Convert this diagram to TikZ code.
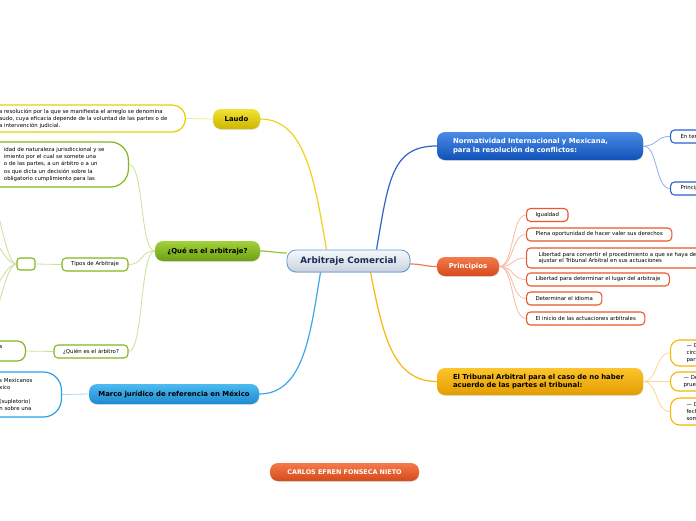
\documentclass[tikz,border=0pt]{standalone}
\usepackage{fontspec}
\setmainfont{DejaVu Sans}
\usetikzlibrary{shadows,backgrounds}
\definecolor{cenTop}{HTML}{F6F8FB}\definecolor{cenBot}{HTML}{C8D2DD}\definecolor{cenLine}{HTML}{5B9BD5}\definecolor{cenText}{HTML}{1B2A57}
\definecolor{yTop}{HTML}{F2E233}\definecolor{yBot}{HTML}{CDB700}\definecolor{yBord}{HTML}{E8CF00}\definecolor{yLine}{HTML}{EED21B}\definecolor{ySub}{HTML}{F3E88A}
\definecolor{gTop}{HTML}{A3D13B}\definecolor{gBot}{HTML}{6C9F12}\definecolor{gBord}{HTML}{84B71E}\definecolor{gLine}{HTML}{96C43C}\definecolor{gSub}{HTML}{C9E29A}
\definecolor{mTop}{HTML}{4DBAF0}\definecolor{mBot}{HTML}{1C8BD0}\definecolor{mBord}{HTML}{2AA2E6}\definecolor{mLine}{HTML}{3AA9E8}\definecolor{mSub}{HTML}{A8D8F5}
\definecolor{nTop}{HTML}{4A8BE6}\definecolor{nBot}{HTML}{1051B8}\definecolor{nBord}{HTML}{2463D1}\definecolor{nLine}{HTML}{2A66CC}\definecolor{nSub}{HTML}{8DB0EA}
\definecolor{oTop}{HTML}{F57A4A}\definecolor{oBot}{HTML}{D54A1B}\definecolor{oBord}{HTML}{E9572A}\definecolor{oLine}{HTML}{F07A58}\definecolor{oSub}{HTML}{F7BBA6}
\definecolor{tTop}{HTML}{FDC42C}\definecolor{tBot}{HTML}{E39D00}\definecolor{tBord}{HTML}{F7B500}\definecolor{tLine}{HTML}{F6B80E}\definecolor{tSub}{HTML}{FAD98A}
\begin{document}
\begin{tikzpicture}[x=1pt,y=-1pt,
  every node/.style={inner sep=0pt},
  title/.style={rounded corners=8pt, font=\fontsize{6.9}{8.6}\selectfont\bfseries, align=center,
    drop shadow={opacity=0.25, shadow xshift=0.4pt, shadow yshift=-0.8pt}},
  leaf/.style={draw, fill=white, line width=1.1pt, rounded corners=4pt, font=\fontsize{5.4}{6.9}\selectfont,
    inner xsep=9pt, inner ysep=0pt, minimum height=13pt, anchor=west, align=left},
  bigbox/.style={draw, fill=white, line width=1.2pt, rounded corners=14pt, font=\fontsize{5.4}{7.1}\selectfont,
    align=left, anchor=east},
  mainline/.style={line width=1.2pt},
  subline/.style={line width=0.8pt},
]
\useasboundingbox (0,0) rectangle (696,520);

% central
\node[title, top color=cenTop, bottom color=cenBot, draw=cenLine, line width=0.8pt, minimum width=123pt,
  minimum height=22pt, rounded corners=9pt, text=cenText, font=\fontsize{8.8}{10}\selectfont\bfseries]
  (central) at (348.5,261) {Arbitraje Comercial};

% Laudo
\node[title, top color=yTop, bottom color=yBot, minimum width=47pt, minimum height=20pt] (laudo) at (236.5,119) {Laudo};
\node[bigbox, draw=yBord, inner xsep=18pt, minimum height=27pt, rounded corners=13pt] (laudotxt) at (186,118.5)
  {a resolución por la que se manifiesta el arreglo se denomina\\audo, cuya eficacia depende de la voluntad de las partes o de\\a intervención judicial.};

% Que es el arbitraje
\node[title, top color=gTop, bottom color=gBot, minimum width=105pt, minimum height=20pt] (que) at (207.5,251) {¿Qué es el arbitraje?};
\node[bigbox, draw=gBord, inner xsep=24pt, minimum height=45pt, rounded corners=18pt] (grntxt) at (129,164.5)
  {idad de naturaleza jurisdiccional y se\\imiento por el cual se somete una\\o de las partes, a un árbitro o a un\\os que dicta un decisión sobre la\\obligatorio cumplimiento para las};
\node[leaf, draw=gBord, anchor=center, minimum width=66pt] (tipos) at (95,264.5) {Tipos de Arbitraje};
\node[leaf, draw=gBord, anchor=center, minimum width=18pt, minimum height=12pt, rounded corners=3pt] (empty) at (26,264) {};
\node[leaf, draw=gBord, anchor=center, minimum width=74pt] (quien) at (91,351.5) {¿Quién es el árbitro?};
\node[bigbox, draw=gBord, inner xsep=23pt, minimum height=20pt, rounded corners=8pt] (grns) at (26,351) {s\\\mbox{}};

% Marco
\node[title, top color=mTop, bottom color=mBot, minimum width=170pt, minimum height=20pt] (marco) at (174,394) {Marco jurídico de referencia en México};
\node[bigbox, draw=mBord, inner xsep=29pt, minimum height=45pt, rounded corners=18pt] (blutxt) at (62,394.5)
  {s Mexicanos\\xico\\\mbox{}\\(supletorio)\\n sobre una};

% Normatividad
\node[title, top color=nTop, bottom color=nBot, text=white, minimum width=206pt, minimum height=28pt,
  align=left, text width=174pt, inner xsep=16pt] (norm) at (540,146)
  {Normatividad Internacional y Mexicana,\\para la resolución de conflictos:};
\node[leaf, draw=nBord, text width=40pt, inner xsep=10pt] (enter) at (670,136.5) {En ter};
\node[leaf, draw=nBord, text width=40pt, inner xsep=10pt] (princip) at (670,188.5) {Princip};

% Principios
\node[title, top color=oTop, bottom color=oBot, text=white, minimum width=62pt, minimum height=19pt] (princ) at (468,266.5) {Principios};
\node[leaf, draw=oBord] (igual) at (526,215) {Igualdad};
\node[leaf, draw=oBord] (plena) at (526,234.5) {Plena oportunidad de hacer valer sus derechos};
\node[leaf, draw=oBord, minimum height=20pt, inner xsep=12pt] (libre) at (526,258)
  {Libertad para convertir el procedimiento a que se haya de\\ajustar el Tribunal Arbitral en sus actuaciones};
\node[leaf, draw=oBord] (lugar) at (526,279.5) {Libertad para determinar el lugar del arbitraje};
\node[leaf, draw=oBord] (idioma) at (526,298.5) {Determinar el idioma};
\node[leaf, draw=oBord] (inicio) at (526,318.5) {El inicio de las actuaciones arbitrales};

% Tribunal
\node[title, top color=tTop, bottom color=tBot, minimum width=206pt, minimum height=27pt,
  align=left, text width=174pt, inner xsep=16pt] (trib) at (540,381.5)
  {El Tribunal Arbitral para el caso de no haber\\acuerdo de las partes el tribunal:};
\node[leaf, draw=tBord, text width=40pt, inner xsep=16pt, minimum height=26pt, rounded corners=9pt] (t1) at (670,353) {— D\\circ\\part};
\node[leaf, draw=tBord, text width=40pt, inner xsep=13pt, minimum height=19pt, rounded corners=8pt] (t2) at (670,381.5) {— De\\prue};
\node[leaf, draw=tBord, text width=40pt, inner xsep=16pt, minimum height=27pt, rounded corners=9pt] (t3) at (670,411.5) {— D\\fech\\som};

% author
\node[title, top color=oTop, bottom color=oBot, text=white, minimum width=149pt, minimum height=18pt,
  font=\fontsize{6.4}{8}\selectfont\bfseries] (carlos) at (344.5,472) {CARLOS EFREN FONSECA NIETO};

\coordinate (e1) at (-15,185);
\coordinate (e2) at (-15,235);
\coordinate (e3) at (-15,295);
\coordinate (e4) at (-15,330);

\begin{scope}[on background layer]
\fill[white] (0,0) rectangle (696,520);
% main branches
\draw[mainline, draw=yLine] ([xshift=-22pt]central.north) .. controls +(-12,-70) and +(45,0) .. (laudo.east);
\draw[mainline, draw=gLine] ([yshift=8pt]central.west) .. controls +(-10,0) and +(10,0) .. (que.east);
\draw[mainline, draw=mLine] ([xshift=-28pt]central.south) .. controls +(-10,60) and +(45,0) .. (marco.east);
\draw[mainline, draw=nLine] ([xshift=28pt]central.north) .. controls +(12,-70) and +(-45,0) .. (norm.west);
\draw[mainline, draw=oLine] ([yshift=-3pt]central.east) .. controls +(12,0) and +(-12,0) .. (princ.west);
\draw[mainline, draw=tLine] ([xshift=22pt]central.south) .. controls +(12,60) and +(-45,0) .. (trib.west);
% sub branches
\draw[subline, draw=ySub] (laudo.west) -- (laudotxt.east);
\foreach \t in {grntxt,tipos,quien}
  \draw[subline, draw=gSub] (que.west) .. controls +(-15,0) and +(15,0) .. (\t.east);
\draw[subline, draw=gSub] (tipos.west) -- (empty.east);
\draw[subline, draw=gSub] (quien.west) -- (grns.east);
\foreach \t in {e1,e2,e3,e4}
  \draw[subline, draw=gSub] (empty.west) .. controls +(-12,0) and +(12,0) .. (\t);
\draw[subline, draw=mSub] (marco.west) -- (blutxt.east);
\foreach \t in {enter,princip}
  \draw[subline, draw=nSub] (norm.east) .. controls +(15,0) and +(-15,0) .. (\t.west);
\foreach \t in {igual,plena,libre,lugar,idioma,inicio}
  \draw[subline, draw=oSub] (princ.east) .. controls +(15,0) and +(-15,0) .. (\t.west);
\foreach \t in {t1,t2,t3}
  \draw[subline, draw=tSub] (trib.east) .. controls +(15,0) and +(-15,0) .. (\t.west);
\end{scope}
\end{tikzpicture}
\end{document}
